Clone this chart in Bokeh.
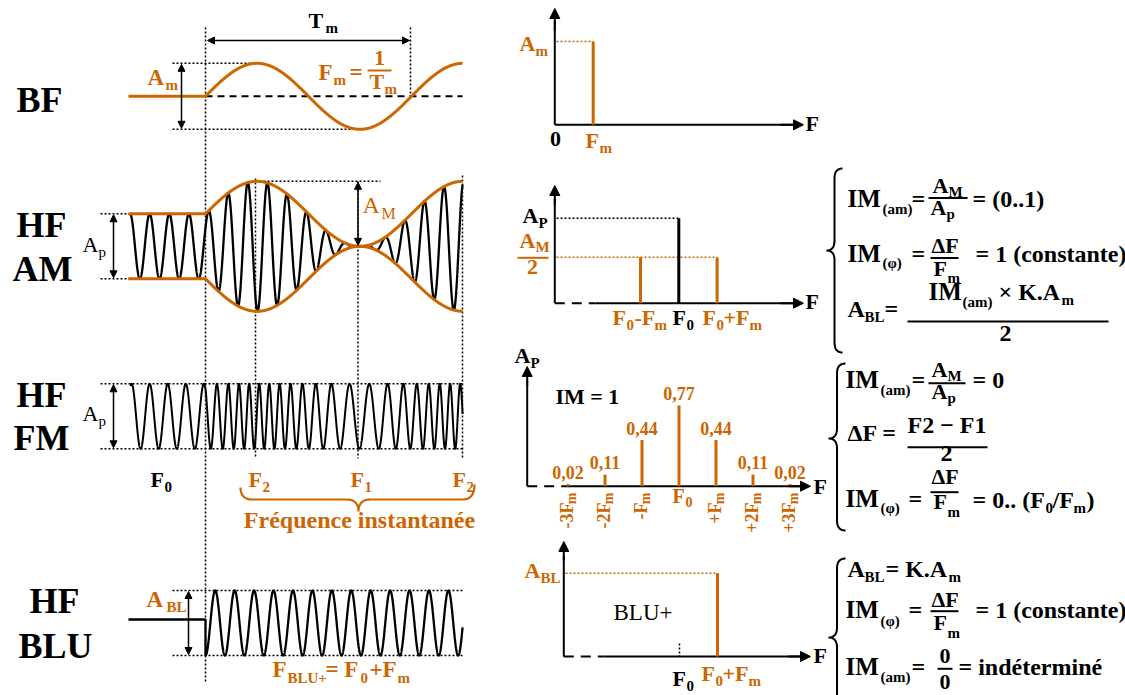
import numpy as np
from bokeh.plotting import figure
from bokeh.models import Range1d, Arrow, NormalHead
from bokeh.embed import file_html
from bokeh.resources import INLINE
from bokeh.core.properties import value

# ---------------- data ----------------
ROW_TITLES = [["BF"], ["HF", "AM"], ["HF", "FM"], ["HF", "BLU"]]

# time axis of the waveforms, in units of the modulation period Tm
T_START, T_END, T_CARRIER = -0.374, 1.248, -0.364
AM_INDEX = 1.0            # IM(am) of the drawn AM signal
AM_CARRIER_CYCLES = 10.5  # carrier periods per Tm
FM_F0_CYCLES = 11.4       # unmodulated carrier
FM_MEAN_CYCLES = 15.5
FM_DEVIATION = 0.33
BLU_CYCLES = 10.6
BLU_IDLE_LEVEL = 0.108

# spectra (frequency index, amplitude)
BF_SPEC_F = [1]
BF_SPEC_A = [1.0]
AM_SPEC_F = [-1, 0, 1]
AM_SPEC_A = [0.54, 1.0, 0.54]
FM_SPEC_F = [-3, -2, -1, 0, 1, 2, 3]
FM_SPEC_A = [0.02, 0.11, 0.44, 0.77, 0.44, 0.11, 0.02]
FM_SPEC_LABELS = ["0,02", "0,11", "0,44", "0,77", "0,44", "0,11", "0,02"]
FM_TICKS = ["-3F", "-2F", "-F", "F", "+F", "+2F", "+3F"]
FM_TICK_SUBS = ["m", "m", "m", "0", "m", "m", "m"]
BLU_SPEC_F = [1]
BLU_SPEC_A = [1.0]

# ---------------- figure ----------------
OR = "#CC6600"
BK = "#000000"
FONT = "'Liberation Serif', 'Times New Roman', Times, serif"
TEXT_DY = 0.36   # baseline correction (fraction of font size)
W, H = 1125, 695
X0, Y0 = 0, 0

p = figure(width=W, height=H, x_range=Range1d(X0, X0 + W), y_range=Range1d(Y0 + H, Y0),
           output_backend="svg", toolbar_location=None, x_axis_type=None, y_axis_type=None,
           min_border=0, outline_line_color=None, background_fill_color="white")
p.grid.visible = False

SC = {}


def scale(name, xo, xu, yo, yu):
    SC[name] = (xo, xu, yo, yu)
    p.extra_x_ranges[name] = Range1d((X0 - xo) / xu, (X0 + W - xo) / xu)
    p.extra_y_ranges[name] = Range1d((yo - (Y0 + H)) / yu, (yo - Y0) / yu)


def px(name, x, y):
    xo, xu, yo, yu = SC[name]
    return xo + x * xu, yo - y * yu


scale("bf", 205, 206, 95.8, 33)
scale("am", 205, 206, 245.8, 32.5)
scale("fm", 205, 206, 415.8, 32.5)
scale("blu", 205, 206, 622.5, 32.5)
scale("s1", 554.3, 38.4, 124.3, 83.3)
scale("s2", 678.3, 38.3, 302.7, 85.0)
scale("s3", 678.5, 37.0, 485.7, 105.0)
scale("s4", 679.0, 38.0, 656.0, 83.3)

texts = []


def T(x, y, s, size, color=BK, bold=True, align="left", angle=0.0):
    if angle == 0.0:
        y = y - TEXT_DY * size
    else:
        x = x - TEXT_DY * size
    texts.append((x, y, s, size, color, "bold" if bold else "normal", align, angle))


def dotted(xs, ys, color=BK, w=1.5):
    p.line(xs, ys, line_color=color, line_width=w, line_dash="2 2")


def solid(xs, ys, color=BK, w=2.0):
    p.line(xs, ys, line_color=color, line_width=w)


def arrow(x1, y1, x2, y2, both=False, size=7, w=1.5):
    kw = dict(x_start=x1, y_start=y1, x_end=x2, y_end=y2, line_width=w, line_color=BK,
              end=NormalHead(size=size, fill_color=BK, line_color=BK, line_width=1))
    kw["start"] = NormalHead(size=size, fill_color=BK, line_color=BK, line_width=1) if both else None
    p.add_layout(Arrow(**kw))


def qb(a, c, b, n=16):
    t = np.linspace(0, 1, n)[:, None]
    a, c, b = np.array(a, float), np.array(c, float), np.array(b, float)
    return list((1 - t) ** 2 * a + 2 * (1 - t) * t * c + t ** 2 * b)


def vbrace(xr, xl, yt, ym, yb, r=10):
    xm = (xr + xl) / 2
    pts = (qb((xr, yt), (xm, yt), (xm, yt + r)) + [np.array((xm, ym - r))]
           + qb((xm, ym - r), (xm, ym), (xl, ym)) + qb((xl, ym), (xm, ym), (xm, ym + r))
           + [np.array((xm, yb - r))] + qb((xm, yb - r), (xm, yb), (xr, yb)))
    pts = np.array(pts)
    p.line(pts[:, 0], pts[:, 1], line_color=BK, line_width=2)


def hbrace(xl, xr, yt, xm, yb, color, r=12):
    ym = (yt + yb) / 2
    pts = (qb((xl, yt), (xl, ym), (xl + r, ym)) + [np.array((xm - r, ym))]
           + qb((xm - r, ym), (xm, ym), (xm, yb)) + qb((xm, yb), (xm, ym), (xm + r, ym))
           + [np.array((xr - r, ym))] + qb((xr - r, ym), (xr, ym), (xr, yt - 3)))
    pts = np.array(pts)
    p.line(pts[:, 0], pts[:, 1], line_color=color, line_width=2.2)


# ---------------- waveforms ----------------
t = np.linspace(T_START, T_END, 5000)
tc = np.linspace(T_CARRIER, T_END, 6000)
mod = np.where(t >= 0, np.sin(2 * np.pi * t), 0.0)
modc = np.where(tc >= 0, np.sin(2 * np.pi * tc), 0.0)

# guide lines (behind)
dotted([205, 205], [27, 682])
dotted([410, 410], [27, 98])
for xv, ytop in [(255, 178), (357.5, 181), (462, 175)]:
    dotted([xv, xv], [ytop, 458])

# BF
_, ytop = px("bf", 0, 1)
_, ybot = px("bf", 0, -1)
dotted([172, 250], [ytop, ytop])
dotted([172, 355], [ybot, ybot])
p.line([0, T_END], [0, 0], x_range_name="bf", y_range_name="bf", line_color=BK, line_width=2, line_dash="7 5")
p.line(t, mod, x_range_name="bf", y_range_name="bf", line_color=OR, line_width=3)
arrow(207, 40, 409, 40, both=True)
arrow(181, ytop + 1, 181, ybot - 1, both=True)

# AM
env = 1 + AM_INDEX * modc
am = env * np.sin(2 * np.pi * AM_CARRIER_CYCLES * tc + 0.6)
_, a_top = px("am", 0, 1)
_, a_bot = px("am", 0, -1)
_, a_max = px("am", 0, 1 + AM_INDEX)
_, a_mid = px("am", 0, 0)
dotted([100, 130], [a_top, a_top])
dotted([100, 130], [a_bot, a_bot])
dotted([255, 380], [a_max, a_max])
p.line(tc, am, x_range_name="am", y_range_name="am", line_color=BK, line_width=2.3)
envt = np.linspace(T_START, T_END, 3000)
envv = 1 + AM_INDEX * np.where(envt >= 0, np.sin(2 * np.pi * envt), 0.0)
p.line(envt, envv, x_range_name="am", y_range_name="am", line_color=OR, line_width=3)
p.line(envt, -envv, x_range_name="am", y_range_name="am", line_color=OR, line_width=3)
arrow(113, a_top + 1, 113, a_bot - 1, both=True)
arrow(357.5, a_max + 1, 357.5, a_mid - 1, both=True)

# FM
finst = np.where(tc < 0, FM_F0_CYCLES, FM_MEAN_CYCLES * (1 + FM_DEVIATION * modc))
phase = 2 * np.pi * np.concatenate([[0.0], np.cumsum(0.5 * (finst[1:] + finst[:-1]) * np.diff(tc))])
fm = np.sin(phase + 1.2)
_, f_top = px("fm", 0, 1)
_, f_bot = px("fm", 0, -1)
dotted([100, 462], [f_top, f_top])
dotted([100, 462], [f_bot, f_bot])
p.line(tc, fm, x_range_name="fm", y_range_name="fm", line_color=BK, line_width=2)
arrow(113, f_top + 1, 113, f_bot - 1, both=True)
hbrace(240, 474, 487, 358, 511, OR)

# BLU
tb = np.linspace(0, T_END, 4000)
blu_x = np.concatenate([[T_START, 0.0], tb])
blu_y = np.concatenate([[BLU_IDLE_LEVEL, BLU_IDLE_LEVEL], np.sin(2 * np.pi * BLU_CYCLES * tb - np.pi / 2)])
_, b_top = px("blu", 0, 1)
_, b_bot = px("blu", 0, -1)
dotted([172, 462], [b_top, b_top])
dotted([172, 462], [b_bot, b_bot])
p.line(blu_x, blu_y, x_range_name="blu", y_range_name="blu", line_color=BK, line_width=2.3)
arrow(188, b_top + 1, 188, b_bot - 1, both=True)

# ---------------- spectra ----------------
# S1 (BF)
solid([554.3, 554.3], [124.3, 20])
arrow(554.3, 30, 554.3, 8, size=10, w=2)
solid([554.3, 795], [124.3, 124.3])
arrow(780, 124.3, 803, 124.3, size=10, w=2)
for f, a in zip(BF_SPEC_F, BF_SPEC_A):
    xk, yk = px("s1", f, a)
    dotted([556, xk], [yk, yk], OR)
p.segment(x0=BF_SPEC_F, y0=[0] * len(BF_SPEC_F), x1=BF_SPEC_F, y1=BF_SPEC_A,
          x_range_name="s1", y_range_name="s1", line_color=OR, line_width=3)

# S2 (AM)
solid([554.3, 554.3], [302.7, 198])
arrow(554.3, 205, 554.3, 185, size=10, w=2)
p.line([554.3, 595], [302.7, 302.7], line_color=BK, line_width=2, line_dash="10 7")
solid([595, 795], [302.7, 302.7])
arrow(780, 302.7, 803, 302.7, size=10, w=2)
AM_COLORS = [OR, BK, OR]
for f, a, c in zip(AM_SPEC_F, AM_SPEC_A, AM_COLORS):
    xk, yk = px("s2", f, a)
    if c == BK:
        dotted([556, xk], [yk, yk], BK)
xk, yk = px("s2", max(AM_SPEC_F), AM_SPEC_A[0])
dotted([556, xk], [yk, yk], OR)
p.segment(x0=AM_SPEC_F, y0=[0] * 3, x1=AM_SPEC_F, y1=AM_SPEC_A, x_range_name="s2",
          y_range_name="s2", line_color=AM_COLORS, line_width=3)

# S3 (FM)
solid([526.7, 526.7], [485.7, 380])
arrow(526.7, 385, 526.7, 366, size=10, w=2)
p.line([526.7, 567], [485.7, 485.7], line_color=BK, line_width=2, line_dash="10 7")
solid([567, 800], [485.7, 485.7])
arrow(788, 485.7, 810, 485.7, size=10, w=2)
p.segment(x0=FM_SPEC_F, y0=[0] * 7, x1=FM_SPEC_F, y1=FM_SPEC_A, x_range_name="s3",
          y_range_name="s3", line_color=OR, line_width=3)
for f, a, lab, tk, sb in zip(FM_SPEC_F, FM_SPEC_A, FM_SPEC_LABELS, FM_TICKS, FM_TICK_SUBS):
    xk, yk = px("s3", f, a)
    T(xk, yk - 5.5, lab, 18, OR, align="center")
    if f == 0:
        T(xk - 6.5, 503, tk, 20, OR)
        T(xk + 6.5, 507, sb, 14, OR)
    else:
        T(xk + 5, 502, tk, 18, OR, align="right", angle=np.pi / 2)
        T(xk + 9, 492, sb, 14, OR, align="right", angle=np.pi / 2)

# S4 (BLU)
solid([563.3, 563.3], [656, 555])
arrow(563.3, 560, 563.3, 541, size=10, w=2)
p.line([563.3, 603], [656, 656], line_color=BK, line_width=2, line_dash="10 7")
solid([603, 800], [656, 656])
arrow(788, 656, 810, 656, size=10, w=2)
for f, a in zip(BLU_SPEC_F, BLU_SPEC_A):
    xk, yk = px("s4", f, a)
    dotted([565, xk], [yk, yk], OR)
x0p, _ = px("s4", 0, 0)
dotted([x0p, x0p], [643, 656])
p.segment(x0=BLU_SPEC_F, y0=[0], x1=BLU_SPEC_F, y1=BLU_SPEC_A, x_range_name="s4",
          y_range_name="s4", line_color=OR, line_width=3)

# ---------------- braces & fraction bars ----------------
vbrace(842, 826, 168, 250, 352)
vbrace(845, 828, 363, 438, 530)
vbrace(845, 828, 558, 637, 705)
for (xa, xb, yy, c) in [(367, 391, 70, OR), (517, 548, 257.3, OR),
                        (928, 967, 197.5, BK), (930, 958, 257.5, BK), (907, 1108, 321, BK),
                        (928, 965, 382.7, BK), (907, 987, 446.7, BK), (930, 958, 491.7, BK),
                        (930, 958, 610.7, BK), (937, 952, 668.3, BK)]:
    solid([xa, xb], [yy, yy], c, 2)

# ---------------- texts ----------------
ROW = 36
SUB = 15
MID = 22
FRM = 24
IMS = 25
row_pos = [[(39, 112)], [(41, 237), (42, 281)], [(41, 407), (41, 450)], [(54, 613), (55, 658)]]
for titles, poss in zip(ROW_TITLES, row_pos):
    for s, (x, y) in zip(titles, poss):
        T(x, y, s, ROW, align="center")

# BF row
T(308, 28, "T", MID)
T(325, 33, "m", SUB)
T(147, 85, "A", 23, OR)
T(165, 90, "m", SUB, OR)
T(318, 80, "F", 23, OR)
T(333, 85, "m", SUB, OR)
T(349, 80, "=", 23, OR)
T(379, 65, "1", MID, OR, align="center")
T(369, 89, "T", MID, OR)
T(384, 94, "m", SUB, OR)
# AM row
T(82, 252, "A", MID, bold=False)
T(98, 257, "p", SUB, bold=False)
T(362, 213, "A", FRM, OR, bold=False)
T(381, 219, "M", 16, OR, bold=False)
# FM row
T(82, 421, "A", MID, bold=False)
T(98, 426, "p", SUB, bold=False)
T(150, 487, "F", MID)
T(164, 492, "0", SUB)
for xx, sb in [(248, "2"), (350, "1"), (452, "2")]:
    T(xx, 487, "F", MID, OR)
    T(xx + 14, 492, sb, SUB, OR)
T(359, 528, "Fréquence instantanée", FRM, OR, align="center")
# BLU row
T(146, 607, "A", 23, OR)
T(166, 612, "BL", SUB, OR)
T(272, 677, "F", 23, OR)
T(287, 683, "BLU+", SUB, OR)
T(325, 677, "= F", 23, OR)
T(360, 683, "0", SUB, OR)
T(369, 677, "+F", 23, OR)
T(397, 683, "m", SUB, OR)

# spectrum labels
T(805, 131, "F", MID)
T(555, 146, "0", MID, align="center")
T(519, 51, "A", MID, OR)
T(535, 56, "m", SUB, OR)
T(585, 148, "F", MID, OR)
T(599, 153, "m", SUB, OR)

T(805, 309, "F", MID)
T(522, 223, "A", MID)
T(538, 228, "P", SUB)
T(519, 248, "A", MID, OR)
T(535, 252, "M", SUB, OR)
T(532, 274, "2", MID, OR, align="center")
T(612, 325, "F", MID, OR)
T(626, 330, "0", SUB, OR)
T(634, 325, "-F", MID, OR)
T(654, 330, "m", SUB, OR)
T(672, 325, "F", MID)
T(686, 330, "0", SUB)
T(702, 325, "F", MID, OR)
T(716, 330, "0", SUB, OR)
T(723, 325, "+F", MID, OR)
T(749, 330, "m", SUB, OR)

T(514, 363, "A", MID)
T(530, 368, "P", SUB)
T(813, 494, "F", MID)
T(555, 404, "IM = 1", MID)

T(524, 578, "A", MID, OR)
T(540, 583, "BL", SUB, OR)
T(613, 620, "BLU+", 23, bold=False)
T(813, 663, "F", MID)
T(672, 686, "F", MID)
T(686, 691, "0", SUB)
T(701, 681, "F", MID, OR)
T(715, 686, "0", SUB, OR)
T(722, 681, "+F", MID, OR)
T(748, 686, "m", SUB, OR)

# formulas, block 1 (AM)
T(847, 207, "IM", IMS)
T(882, 214, "(am)", SUB)
T(911, 207, "=", FRM)
T(932, 193, "A", MID)
T(948, 197, "M", SUB)
T(930, 215, "A", MID)
T(946, 219, "p", SUB)
T(972, 207, "= (0..1)", FRM)
T(847, 262, "IM", IMS)
T(882, 268, "(φ)", SUB)
T(911, 262, "=", FRM)
T(931, 253, "ΔF", MID)
T(933, 276, "F", MID)
T(947, 283, "m", SUB)
T(975, 262, "= 1 (constante)", FRM)
T(847, 317, "A", FRM)
T(864, 322, "BL", SUB)
T(884, 317, "=", FRM)
T(928, 300, "IM", IMS)
T(962, 307, "(am)", SUB)
T(998, 300, "× K.A", FRM)
T(1061, 305, "m", SUB)
T(1005, 342, "2", FRM, align="center")

# block 2 (FM)
T(845, 388, "IM", IMS)
T(880, 395, "(am)", SUB)
T(911, 388, "=", FRM)
T(931, 377, "A", MID)
T(947, 381, "M", SUB)
T(931, 399, "A", MID)
T(947, 403, "p", SUB)
T(972, 388, "= 0", FRM)
T(847, 441, "ΔF =", FRM)
T(907, 433, "F2 − F1", FRM)
T(946, 462, "2", FRM, align="center")
T(845, 507, "IM", IMS)
T(880, 513, "(φ)", SUB)
T(908, 507, "=", FRM)
T(931, 484, "ΔF", MID)
T(933, 509, "F", MID)
T(947, 517, "m", SUB)
T(972, 508, "= 0.. (F", FRM)
T(1045, 513, "0", SUB)
T(1052, 508, "/F", FRM)
T(1073, 513, "m", SUB)
T(1086, 508, ")", FRM)

# block 3 (BLU)
T(847, 577, "A", FRM)
T(864, 582, "BL", SUB)
T(885, 577, "= K.A", FRM)
T(948, 582, "m", SUB)
T(845, 618, "IM", IMS)
T(880, 626, "(φ)", SUB)
T(908, 618, "=", FRM)
T(931, 607, "ΔF", MID)
T(933, 630, "F", MID)
T(947, 638, "m", SUB)
T(975, 618, "= 1 (constante)", FRM)
T(845, 675, "IM", IMS)
T(880, 682, "(am)", SUB)
T(911, 675, "=", FRM)
T(944.5, 663, "0", MID, align="center")
T(944.5, 689, "0", MID, align="center")
T(958, 675, "= indéterminé", FRM)

groups = {}
for (x, y, s, size, color, style, align, angle) in texts:
    key = (size, color, style, align, angle)
    g = groups.setdefault(key, ([], [], []))
    g[0].append(x)
    g[1].append(y)
    g[2].append(s)
for (size, color, style, align, angle), (xs, ys, ss) in groups.items():
    p.text(x=xs, y=ys, text=ss, text_font=value(FONT), text_font_size=f"{size}px",
           text_color=color, text_font_style=style, text_align=align,
           text_baseline="alphabetic", angle=angle)

open("out.html", "w", encoding="utf-8").write(file_html(p, INLINE))
